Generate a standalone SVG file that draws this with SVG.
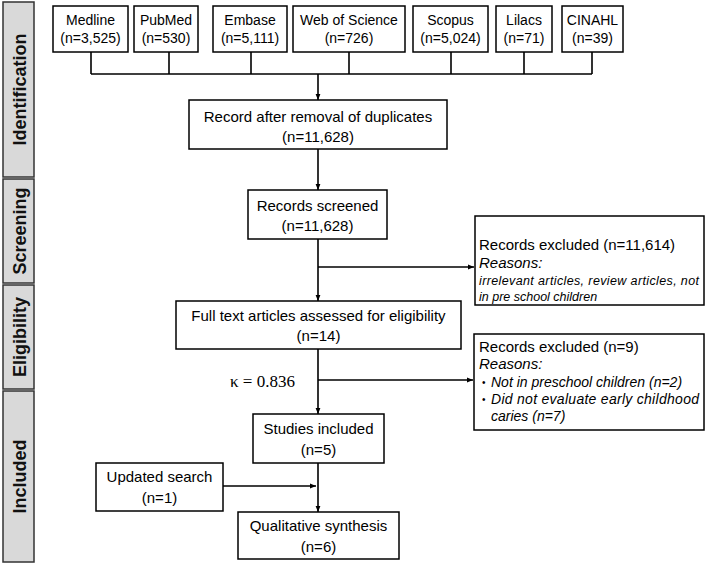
<svg xmlns="http://www.w3.org/2000/svg" width="708" height="564" viewBox="0 0 708 564">
<defs>
<marker id="ah" viewBox="0 0 10 10" refX="10" refY="5" markerWidth="6" markerHeight="6" markerUnits="userSpaceOnUse" orient="auto">
<path d="M0,1 L10,5 L0,9 z" fill="#000"/>
</marker>
<style>
.box{fill:#fff;stroke:#000;stroke-width:1.5}
.side{fill:#d9d9d9;stroke:#333;stroke-width:1.5}
.t{font-family:"Liberation Sans",Arial,sans-serif;font-size:15px;fill:#000;text-anchor:middle}
.ts{font-family:"Liberation Sans",Arial,sans-serif;font-size:14px;fill:#000;text-anchor:middle}
.s{font-family:"Liberation Sans",Arial,sans-serif;font-size:18px;font-weight:bold;fill:#111;text-anchor:middle}
.l{font-family:"Liberation Sans",Arial,sans-serif;font-size:15px;fill:#000}
.i{font-family:"Liberation Sans",Arial,sans-serif;font-size:15px;font-style:italic;fill:#000}
.si{font-family:"Liberation Sans",Arial,sans-serif;font-size:12.5px;font-style:italic;fill:#000}
.bi{font-family:"Liberation Sans",Arial,sans-serif;font-size:14px;font-style:italic;fill:#000}
.bu{font-family:"Liberation Sans",Arial,sans-serif;font-size:10px;fill:#000}
.c{fill:none;stroke:#000;stroke-width:1.6}
.k{font-family:"Liberation Serif","Times New Roman",serif;font-size:17px;fill:#000}
</style>
</defs>
<rect width="708" height="564" fill="#fff"/>
<g id="phases">
<g id="phase-identification"><rect class="side" x="3" y="2" width="31" height="175"/><text class="s" transform="translate(25.5,89.5) rotate(-90)">Identification</text></g>
<g id="phase-screening"><rect class="side" x="3" y="179" width="31" height="104"/><text class="s" transform="translate(25.5,231) rotate(-90)">Screening</text></g>
<g id="phase-eligibility"><rect class="side" x="3" y="285" width="31" height="104"/><text class="s" transform="translate(25.5,337) rotate(-90)">Eligibility</text></g>
<g id="phase-included"><rect class="side" x="3" y="391" width="31" height="171"/><text class="s" transform="translate(25.5,476.5) rotate(-90)">Included</text></g>
</g>
<g id="connectors">
<path class="c" d="M91,52 V74 M169,52 V74 M251,52 V74 M349,52 V74 M451,52 V74 M524,52 V74 M592,52 V74 M91,74 H592"/>
<path class="c" d="M318,74 V100" marker-end="url(#ah)"/>
<path class="c" d="M318,149 V190" marker-end="url(#ah)"/>
<path class="c" d="M318,239 V301" marker-end="url(#ah)"/>
<path class="c" d="M318,267 H474" marker-end="url(#ah)"/>
<path class="c" d="M318,349 V414" marker-end="url(#ah)"/>
<path class="c" d="M318,380 H473" marker-end="url(#ah)"/>
<path class="c" d="M318,463 V512" marker-end="url(#ah)"/>
<path class="c" d="M223,486 H316" marker-end="url(#ah)"/>
</g>
<g id="medline"><rect class="box" x="53" y="6" width="75" height="46"/><text class="ts" x="90.5" y="25">Medline</text><text class="ts" x="90.5" y="43">(n=3,525)</text></g>
<g id="pubmed"><rect class="box" x="134" y="6" width="64" height="46"/><text class="ts" x="166" y="25">PubMed</text><text class="ts" x="166" y="43">(n=530)</text></g>
<g id="embase"><rect class="box" x="213" y="6" width="74" height="46"/><text class="ts" x="250" y="25">Embase</text><text class="ts" x="250" y="43">(n=5,111)</text></g>
<g id="wos"><rect class="box" x="293" y="6" width="112" height="46"/><text class="ts" x="349" y="25">Web of Science</text><text class="ts" x="349" y="43">(n=726)</text></g>
<g id="scopus"><rect class="box" x="413" y="6" width="75" height="46"/><text class="ts" x="450.5" y="25">Scopus</text><text class="ts" x="450.5" y="43">(n=5,024)</text></g>
<g id="lilacs"><rect class="box" x="496" y="6" width="56" height="46"/><text class="ts" x="524" y="25">Lilacs</text><text class="ts" x="524" y="43">(n=71)</text></g>
<g id="cinahl"><rect class="box" x="562" y="6" width="61" height="46"/><text class="ts" x="592.5" y="25">CINAHL</text><text class="ts" x="592.5" y="43">(n=39)</text></g>
<g id="dedup"><rect class="box" x="189" y="100" width="258" height="49"/><text class="t" x="318" y="122">Record after removal of duplicates</text><text class="t" x="318" y="142">(n=11,628)</text></g>
<g id="screened"><rect class="box" x="248" y="190" width="139" height="49"/><text class="t" x="317.5" y="211">Records screened</text><text class="t" x="317.5" y="231">(n=11,628)</text></g>
<g id="excluded1"><rect class="box" x="475" y="216" width="229" height="89"/>
<text class="l" x="479" y="250">Records excluded (n=11,614)</text>
<text class="i" x="479" y="268">Reasons:</text>
<text class="si" x="479" y="285" textLength="220" lengthAdjust="spacing">irrelevant articles, review articles, not</text>
<text class="si" x="479" y="301">in pre school children</text></g>
<g id="fulltext"><rect class="box" x="176" y="301" width="285" height="48"/><text class="t" x="318.5" y="321">Full text articles assessed for eligibility</text><text class="t" x="318.5" y="341">(n=14)</text></g>
<text id="kappa" class="k" x="230" y="387">κ = 0.836</text>
<g id="excluded2"><rect class="box" x="474" y="334" width="230" height="96"/>
<text class="l" x="479" y="352">Records excluded (n=9)</text>
<text class="i" x="479" y="369">Reasons:</text>
<text class="bu" x="482" y="386">•</text>
<text class="bi" x="491" y="387">Not in preschool children (n=2)</text>
<text class="bu" x="482" y="403">•</text>
<text class="bi" x="491" y="404" textLength="208" lengthAdjust="spacing">Did not evaluate early childhood</text>
<text class="bi" x="491" y="421">caries (n=7)</text></g>
<g id="included"><rect class="box" x="253" y="414" width="131" height="49"/><text class="t" x="318.5" y="434">Studies included</text><text class="t" x="318.5" y="455">(n=5)</text></g>
<g id="updated"><rect class="box" x="96" y="463" width="127" height="48"/><text class="t" x="159.5" y="482">Updated search</text><text class="t" x="159.5" y="503">(n=1)</text></g>
<g id="synthesis"><rect class="box" x="238" y="512" width="161" height="47"/><text class="t" x="318.5" y="531">Qualitative synthesis</text><text class="t" x="318.5" y="552">(n=6)</text></g>
</svg>
